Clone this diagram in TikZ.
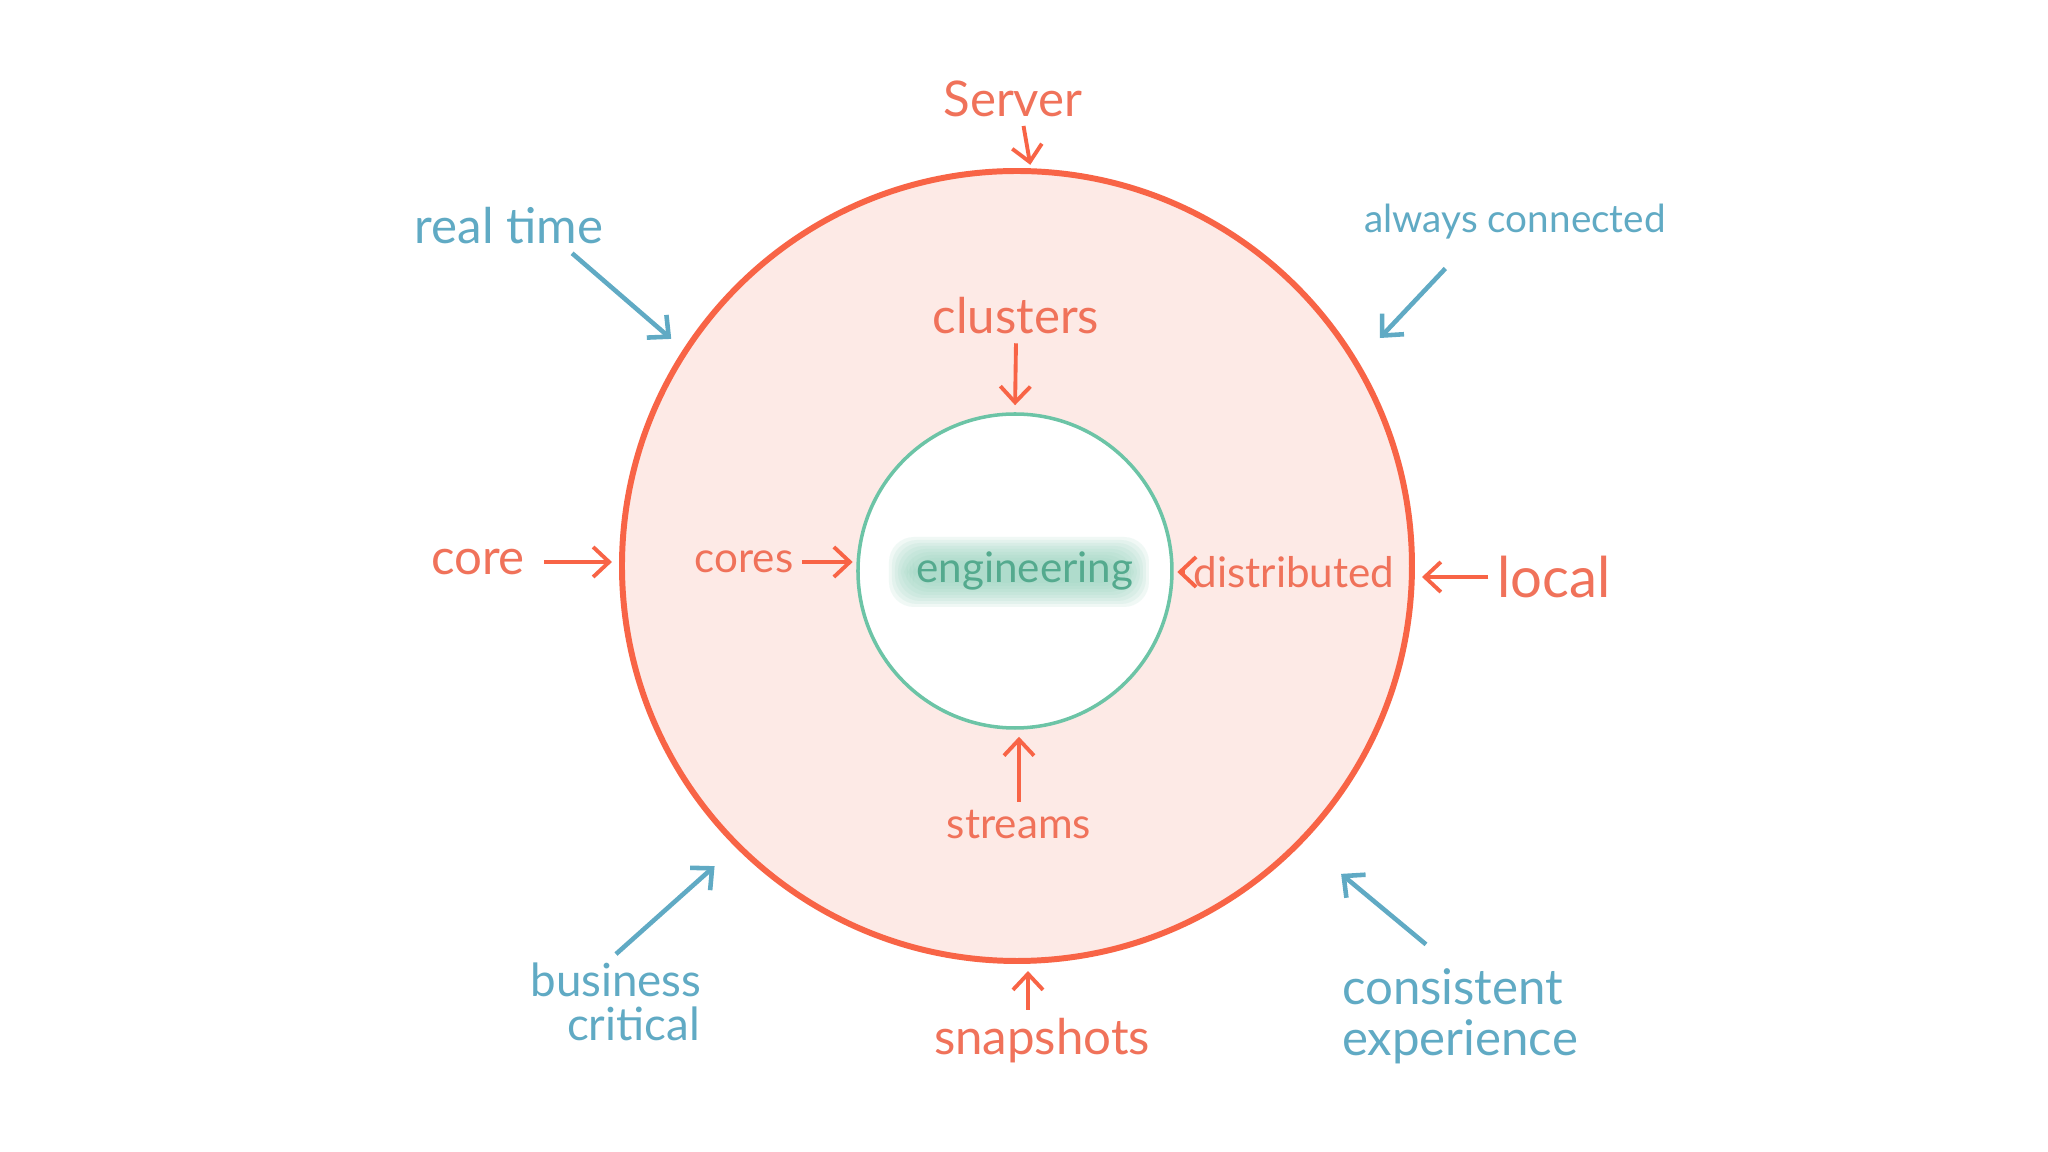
\documentclass[tikz,border=0pt]{standalone}
\usepackage{fontspec}
\setmainfont{Lato}
\usepackage{tikz}
\usetikzlibrary{arrows.meta, positioning}
\usepackage{xcolor}
\definecolor{ringred}{RGB}{248, 100, 70}
\definecolor{ringfill}{RGB}{253, 234, 230}
\definecolor{lblorange}{RGB}{240, 114, 90}
\definecolor{coregreen}{RGB}{108, 196, 166}
\definecolor{engtext}{RGB}{84, 170, 142}
\definecolor{hlgreen}{RGB}{150, 212, 190}
\definecolor{noteblue}{RGB}{96, 170, 196}

\begin{document}
\begin{tikzpicture}[
			>={Straight Barb[length=1.6mm, width=3mm]},
			line width=1.1pt,
			olbl/.style={text=lblorange, font=\fontsize{14}{15}\selectfont, inner sep=2pt},
			ilbl/.style={text=lblorange, font=\fontsize{12}{13}\selectfont, inner sep=2pt},
			blbl/.style={text=noteblue, font=\fontsize{13}{12.5}\selectfont, inner sep=2pt, align=left},
			oarr/.style={->, color=ringred, line width=1.1pt},
			barr/.style={->, color=noteblue, line width=1.3pt}
		]

		\def\dOut{7.9cm}
		\def\dIn{3.14cm}

		\useasboundingbox[fill=white] (-10.17,-5.86) rectangle (10.31,5.66);

		%% 1. Outer ring and inner core
		\node[circle, draw=ringred, fill=ringfill, line width=1.7pt,
			minimum size=\dOut, inner sep=0pt] (outer) at (0,0) {};
		\node[circle, draw=coregreen, fill=white, line width=1pt,
			minimum size=\dIn, inner sep=0pt] (inner) at (-0.02,-0.05) {};

		%% 2. Highlighted word in the middle (soft blob)
		\foreach \d in {0.00,0.03,...,0.24}
			\fill[hlgreen, opacity=0.14, rounded corners=0.25cm]
				(-1.28+\d,-0.41+\d) rectangle (1.32-\d,0.29-\d);
		\node[text=engtext, font=\fontsize{12}{13}\selectfont] (eng) at (0.08,-0.05) {engineering};

		%% 3. Orange labels (ring and core)
		\node[olbl] (server) at (-0.04,4.67) {Server};
		\node[olbl] (clusters) at (-0.01,2.50) {clusters};
		\node[olbl] (core) at (-5.39,0.04) {core};
		\node[ilbl] (cores) at (-2.73,0.04) {cores};
		\node[ilbl] (distrib) at (2.77,-0.06) {distributed};
		\node[olbl, font=\fontsize{16}{17}\selectfont] (local) at (5.37,-0.11) {local};
		\node[ilbl] (streams) at (0.02,-2.59) {streams};
		\node[olbl] (snap) at (0.25,-4.75) {snapshots};

		\draw[oarr, shorten >=1pt] ([xshift=3pt]server.south) -- (outer.88);
		\draw[oarr, shorten >=2pt] (clusters.south) -- (inner.north);
		\draw[oarr, shorten <=3pt, shorten >=2pt] (core.east) -- (core -| outer.west);
		\draw[oarr, shorten >=1pt] (cores.east) -- (cores -| inner.west);
		\draw[oarr, shorten >=1pt] (distrib.west) -- (distrib -| inner.east);
		\draw[oarr, shorten >=2pt] (local.west) -- (local -| outer.east);
		\draw[oarr, shorten >=2pt] (streams.north) -- (streams |- inner.south);
		\draw[oarr, shorten >=2pt] ([xshift=-0.14cm]snap.north) -- ([xshift=-0.14cm]snap.north |- outer.south);

		%% 4. Blue notes outside the ring
		\node[blbl, font=\fontsize{14}{15}\selectfont] (realtime) at (-5.08,3.40) {real time};
		\node[blbl, font=\fontsize{11}{12}\selectfont] (always) at (4.98,3.44) {always connected};
		\node[blbl] (business) at (-4.01,-4.36) {business\\\hspace*{0.8em}critical};
		\node[blbl, font=\fontsize{14}{14.5}\selectfont] (consist) at (4.43,-4.50) {consistent\\experience};

		\draw[barr, shorten >=4.5pt] ([xshift=-4mm]realtime.south east) -- (outer.147);
		\draw[barr, shorten >=9pt] ([xshift=9mm,yshift=-2mm]always.south west) -- (outer.31);
		\draw[barr, shorten >=8pt] (business.north) -- (outer.225);
		\draw[barr, shorten >=14pt] ([xshift=-3.4mm,yshift=1.5mm]consist.north) -- (outer.316);

		\end{tikzpicture}
\end{document}
